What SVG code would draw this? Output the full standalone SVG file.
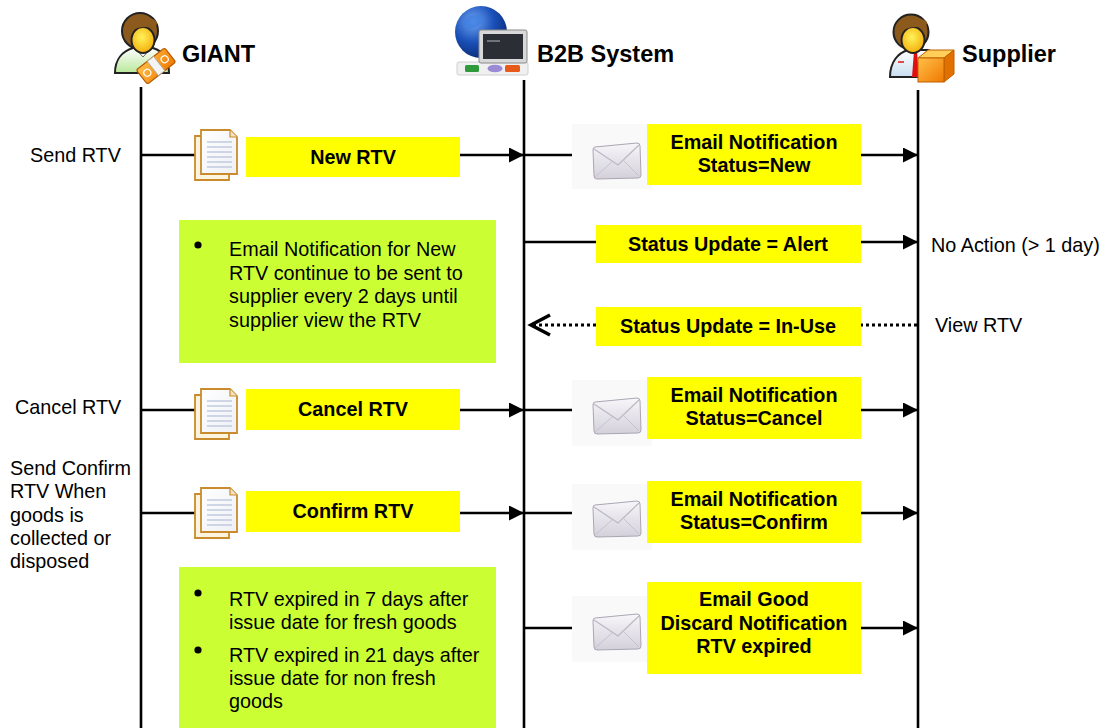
<svg xmlns="http://www.w3.org/2000/svg" xmlns:xlink="http://www.w3.org/1999/xlink" width="1108" height="728" viewBox="0 0 1108 728">
  <style>
    .hdr { font-family: "Liberation Sans", Arial, sans-serif; font-weight: bold; font-size: 23.5px; fill: #000; }
    .box { font-family: "Liberation Sans", Arial, sans-serif; font-weight: bold; font-size: 19.8px; fill: #000; text-anchor: middle; }
    .txt { font-family: "Liberation Sans", Arial, sans-serif; font-size: 19.8px; fill: #000; }
    .msg { fill: #ffff00; }
    .note { fill: #ccff33; }
    .life { stroke: #000; stroke-width: 2.6; fill: none; }
    .line { stroke: #000; stroke-width: 2.6; fill: none; }
    .arr { marker-end: url(#head); }
    .dot { stroke: #000; stroke-width: 3; stroke-dasharray: 3 3; fill: none; }
    .envbg { fill: #f9f9f9; }
  </style>
  <defs>
    <marker id="head" markerUnits="userSpaceOnUse" markerWidth="16" markerHeight="16" refX="15" refY="7.5" orient="auto">
      <path d="M0,0 L15,7.5 L0,15 Z" fill="#000"/>
    </marker>
    <linearGradient id="envFill" x1="0" y1="0" x2="0" y2="1">
      <stop offset="0" stop-color="#f7f6fa"/>
      <stop offset="1" stop-color="#d3d0da"/>
    </linearGradient>
    <linearGradient id="pageFill" x1="0" y1="0" x2="1" y2="1">
      <stop offset="0" stop-color="#ffffff"/>
      <stop offset="1" stop-color="#eef0f6"/>
    </linearGradient>
    <radialGradient id="face" cx="0.45" cy="0.4" r="0.7">
      <stop offset="0" stop-color="#fff25a"/>
      <stop offset="1" stop-color="#f2a400"/>
    </radialGradient>
    <radialGradient id="globe" cx="0.35" cy="0.3" r="0.8">
      <stop offset="0" stop-color="#6fa4f4"/>
      <stop offset="0.5" stop-color="#1a50b8"/>
      <stop offset="1" stop-color="#08246a"/>
    </radialGradient>
    <linearGradient id="orange" x1="0" y1="0" x2="1" y2="1">
      <stop offset="0" stop-color="#ffc04a"/>
      <stop offset="1" stop-color="#f07800"/>
    </linearGradient>
    <linearGradient id="shirt" x1="0" y1="0" x2="0" y2="1">
      <stop offset="0" stop-color="#ffffff"/>
      <stop offset="1" stop-color="#b8e89a"/>
    </linearGradient>
    <linearGradient id="coat" x1="0" y1="0" x2="0" y2="1">
      <stop offset="0" stop-color="#ffffff"/>
      <stop offset="1" stop-color="#c8def0"/>
    </linearGradient>

    <!-- document icon: two stacked pages -->
    <g id="doc">
      <path d="M0,6 H34 V50 H0 Z" fill="#fdf4e0" stroke="#c98b2c" stroke-width="1.8"/>
      <path d="M6,0 H35 L42,7 V44 H6 Z" fill="url(#pageFill)" stroke="#c98b2c" stroke-width="1.8"/>
      <path d="M35,0 V7 H42" fill="#f3e3c2" stroke="#c98b2c" stroke-width="1.2"/>
      <g stroke="#b9c3da" stroke-width="1.3">
        <line x1="12" y1="12" x2="37" y2="12"/>
        <line x1="12" y1="17" x2="37" y2="17"/>
        <line x1="12" y1="22" x2="37" y2="22"/>
        <line x1="12" y1="27" x2="37" y2="27"/>
        <line x1="12" y1="32" x2="37" y2="32"/>
        <line x1="12" y1="37" x2="37" y2="37"/>
      </g>
    </g>

    <!-- envelope icon -->
    <g id="env">
      <path d="M2,5 L44,1 Q47,1 47,4 L48,33 Q48,36 45,36 L4,37 Q1,37 1,34 L0,8 Q0,5 2,5 Z" fill="url(#envFill)" stroke="#aaa6b4" stroke-width="1"/>
      <path d="M1,7 L25,23 L46,3" fill="none" stroke="#bcb8c4" stroke-width="1.2"/>
      <path d="M2,35 L19,20 M46,34 L31,19" fill="none" stroke="#c6c2ce" stroke-width="1"/>
    </g>
  </defs>

  <rect width="1108" height="728" fill="#ffffff"/>

  <!-- GIANT lifeline head -->
  <g id="giant">
    <path d="M115,73 C115,59 123,51 133,48 L153,48 C163,51 169,59 169,73 Z" fill="url(#shirt)" stroke="#222" stroke-width="2"/>
    <path d="M135,48 L143,57 L151,48" fill="#fff" stroke="#666" stroke-width="1"/>
    <circle cx="140" cy="31" r="18" fill="#8b5a1c" stroke="#222" stroke-width="2"/>
    <ellipse cx="143" cy="40" rx="11.5" ry="13" fill="url(#face)" stroke="#222" stroke-width="2"/>
    <path d="M129,35 Q134,24 156,28 L157,22 Q146,12 127,22 Z" fill="#8b5a1c"/>
    <g transform="rotate(-38 156 66)">
      <rect x="138" y="57" width="36" height="18" rx="2" fill="url(#orange)" stroke="#b85a00" stroke-width="1.2"/>
      <rect x="152" y="57" width="8" height="18" fill="#f4f4f4" stroke="#aaa" stroke-width="0.8"/>
      <circle cx="145" cy="66" r="3.5" fill="none" stroke="#fff" stroke-width="1.2"/>
      <circle cx="167" cy="66" r="3.5" fill="none" stroke="#fff" stroke-width="1.2"/>
    </g>
    <text class="hdr" x="182" y="62">GIANT</text>
  </g>

  <!-- B2B System lifeline head -->
  <g id="b2b">
    <rect x="457" y="62" width="71" height="13" rx="2" fill="#f0f0f0" stroke="#cfcfcf" stroke-width="1"/>
    <rect x="465" y="65" width="14" height="7" rx="1.5" fill="#2f9a3c"/>
    <ellipse cx="495" cy="68.5" rx="7.5" ry="3.8" fill="#9c8ad6"/>
    <rect x="505" y="65" width="15" height="7" rx="1.5" fill="#e85a1a"/>
    <circle cx="481" cy="32" r="26" fill="url(#globe)"/>
    <path d="M463,22 Q470,13 480,15 Q487,20 478,26 Q472,30 465,28 Z" fill="#3f7fe0" opacity="0.7"/>
    <path d="M486,38 Q494,34 498,42 Q494,50 486,48 Z" fill="#3f7fe0" opacity="0.6"/>
    <rect x="479" y="30" width="48" height="33" rx="2" fill="#d8d8d8" stroke="#8a8a8a" stroke-width="1"/>
    <rect x="483" y="34" width="40" height="25" fill="#2b2f35"/>
    <line x1="487" y1="41" x2="500" y2="41" stroke="#9aa3ad" stroke-width="1.2"/>
    <text class="hdr" x="537" y="62">B2B System</text>
  </g>

  <!-- Supplier lifeline head -->
  <g id="supplier">
    <path d="M890,77 C890,62 898,53 908,50 L928,50 C938,53 944,62 944,77 Z" fill="url(#coat)" stroke="#222" stroke-width="2"/>
    <path d="M914,51 L912,77 L919,77 L917,51 Z" fill="#e01010"/>
    <line x1="898" y1="62" x2="904" y2="62" stroke="#e01010" stroke-width="1.5"/>
    <circle cx="911" cy="32" r="17.5" fill="#8b5a1c" stroke="#222" stroke-width="2"/>
    <ellipse cx="913" cy="40" rx="11.5" ry="13" fill="url(#face)" stroke="#222" stroke-width="2"/>
    <path d="M900,35 Q905,24 926,28 L927,22 Q916,13 898,22 Z" fill="#8b5a1c"/>
    <path d="M918,58 L928,50 L954,50 L944,58 Z" fill="#ffcf5a" stroke="#c06000" stroke-width="1"/>
    <path d="M944,58 L954,50 L954,74 L944,82 Z" fill="#e27000" stroke="#c06000" stroke-width="1"/>
    <rect x="918" y="58" width="26" height="24" fill="url(#orange)" stroke="#c06000" stroke-width="1"/>
    <text class="hdr" x="962" y="62">Supplier</text>
  </g>

  <!-- lifelines and message connectors -->
  <g id="connectors">
    <line class="life" x1="141" y1="87" x2="141" y2="728"/>
    <line class="life" x1="524" y1="80" x2="524" y2="728"/>
    <line class="life" x1="918" y1="90" x2="918" y2="728"/>

    <!-- New RTV -->
    <path class="line" d="M141,155 H196"/>
    <path class="line arr" d="M460,155 H524"/>
    <path class="line" d="M524,155 H594"/>
    <path class="line arr" d="M861,155 H918"/>

    <!-- Alert -->
    <path class="line" d="M524,242 H596"/>
    <path class="line arr" d="M861,242 H918"/>

    <!-- In-Use (return) -->
    <path class="dot" d="M917,325 H861"/>
    <path class="dot" d="M596,325 H533"/>
    <path d="M550,315 L531,325 L550,335" fill="none" stroke="#000" stroke-width="3.5"/>

    <!-- Cancel RTV -->
    <path class="line" d="M141,410 H196"/>
    <path class="line arr" d="M460,410 H524"/>
    <path class="line" d="M524,410 H594"/>
    <path class="line arr" d="M861,410 H918"/>

    <!-- Confirm RTV -->
    <path class="line" d="M141,513 H196"/>
    <path class="line arr" d="M460,513 H524"/>
    <path class="line" d="M524,513 H594"/>
    <path class="line arr" d="M861,513 H918"/>

    <!-- Expired -->
    <path class="line" d="M524,628 H594"/>
    <path class="line arr" d="M861,628 H918"/>
  </g>

  <!-- side labels -->
  <g id="labels">
    <text class="txt" x="30" y="162">Send RTV</text>
    <text class="txt" x="15" y="414">Cancel RTV</text>
    <text class="txt" x="10" y="475">Send Confirm</text>
    <text class="txt" x="10" y="498">RTV When</text>
    <text class="txt" x="10" y="522">goods is</text>
    <text class="txt" x="10" y="545">collected or</text>
    <text class="txt" x="10" y="568">disposed</text>
    <text class="txt" x="931" y="252">No Action (&gt; 1 day)</text>
    <text class="txt" x="935" y="332">View RTV</text>
  </g>

  <!-- GIANT messages -->
  <g id="new-rtv">
    <use href="#doc" x="195" y="130"/>
    <rect class="msg" x="246" y="137" width="214" height="40"/>
    <text class="box" x="353" y="164">New RTV</text>
  </g>
  <g id="cancel-rtv">
    <use href="#doc" x="195" y="389"/>
    <rect class="msg" x="246" y="389" width="214" height="41"/>
    <text class="box" x="353" y="416">Cancel RTV</text>
  </g>
  <g id="confirm-rtv">
    <use href="#doc" x="195" y="488"/>
    <rect class="msg" x="246" y="491" width="214" height="41"/>
    <text class="box" x="353" y="518">Confirm RTV</text>
  </g>

  <!-- B2B notifications -->
  <g id="notify-new">
    <rect class="envbg" x="572" y="124" width="80" height="65"/>
    <use href="#env" x="593" y="142"/>
    <rect class="msg" x="647" y="124" width="214" height="61"/>
    <text class="box" x="754" y="149">Email Notification</text>
    <text class="box" x="754" y="172">Status=New</text>
  </g>
  <g id="status-alert">
    <rect class="msg" x="596" y="225" width="265" height="38"/>
    <text class="box" x="728" y="251">Status Update = Alert</text>
  </g>
  <g id="status-inuse">
    <rect class="msg" x="596" y="307" width="265" height="39"/>
    <text class="box" x="728" y="333">Status Update = In-Use</text>
  </g>
  <g id="notify-cancel">
    <rect class="envbg" x="572" y="380" width="80" height="66"/>
    <use href="#env" x="593" y="397"/>
    <rect class="msg" x="647" y="377" width="214" height="62"/>
    <text class="box" x="754" y="402">Email Notification</text>
    <text class="box" x="754" y="425">Status=Cancel</text>
  </g>
  <g id="notify-confirm">
    <rect class="envbg" x="572" y="484" width="80" height="66"/>
    <use href="#env" x="593" y="500"/>
    <rect class="msg" x="647" y="481" width="214" height="62"/>
    <text class="box" x="754" y="506">Email Notification</text>
    <text class="box" x="754" y="529">Status=Confirm</text>
  </g>
  <g id="notify-expired">
    <rect class="envbg" x="572" y="596" width="80" height="66"/>
    <use href="#env" x="593" y="613"/>
    <rect class="msg" x="647" y="582" width="214" height="92"/>
    <text class="box" x="754" y="606">Email Good</text>
    <text class="box" x="754" y="630">Discard Notification</text>
    <text class="box" x="754" y="653">RTV expired</text>
  </g>

  <!-- notes -->
  <g id="note-resend">
    <rect class="note" x="179" y="220" width="317" height="143"/>
    <circle cx="198" cy="245" r="3.6" fill="#000"/>
    <text class="txt" x="229" y="256">Email Notification for New</text>
    <text class="txt" x="229" y="280">RTV continue to be sent to</text>
    <text class="txt" x="229" y="303">supplier every 2 days until</text>
    <text class="txt" x="229" y="327">supplier view the RTV</text>
  </g>
  <g id="note-expiry">
    <rect class="note" x="179" y="567" width="317" height="161"/>
    <circle cx="198" cy="593" r="3.6" fill="#000"/>
    <text class="txt" x="229" y="606">RTV expired in 7 days after</text>
    <text class="txt" x="229" y="629">issue date for fresh goods</text>
    <circle cx="198" cy="650" r="3.6" fill="#000"/>
    <text class="txt" x="229" y="662">RTV expired in 21 days after</text>
    <text class="txt" x="229" y="685">issue date for non fresh</text>
    <text class="txt" x="229" y="708">goods</text>
  </g>
</svg>
